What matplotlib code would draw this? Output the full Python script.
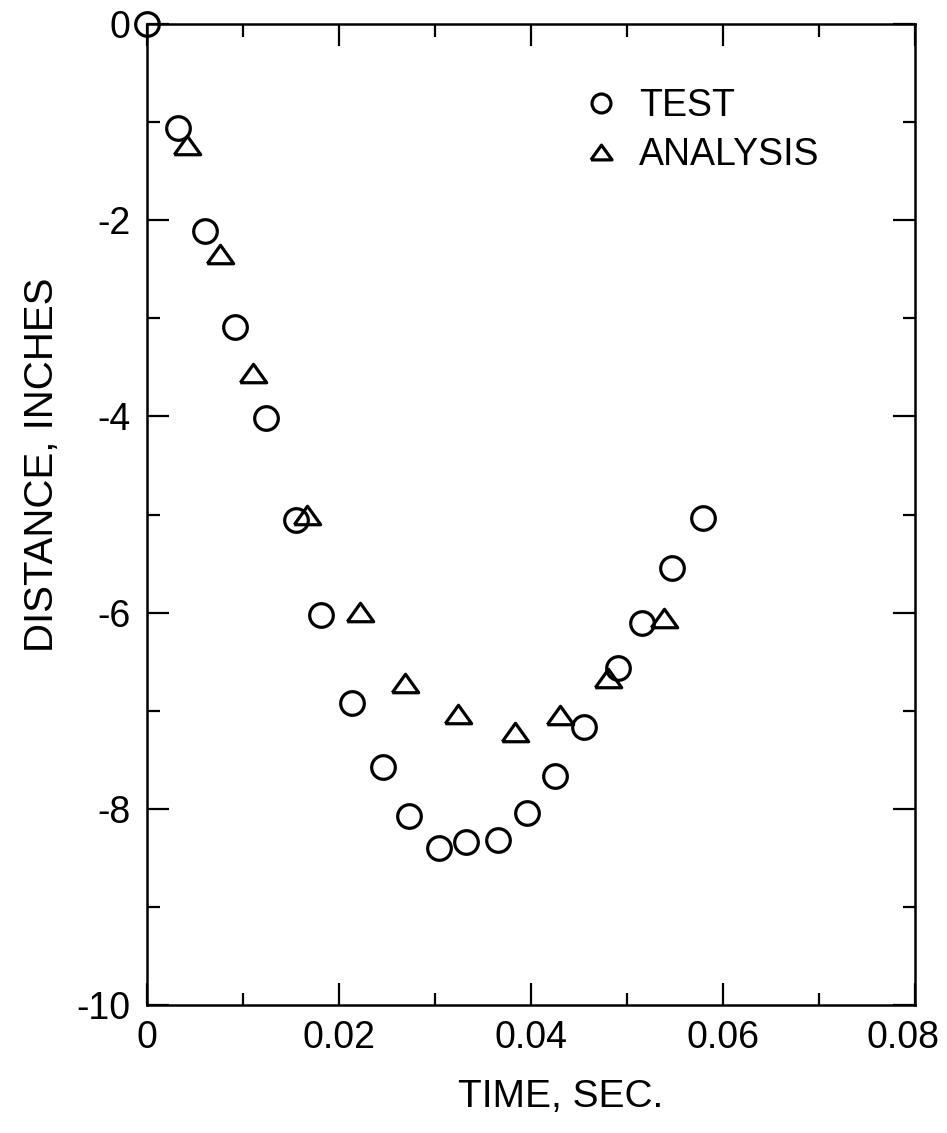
import matplotlib
matplotlib.use("Agg")
import matplotlib.pyplot as plt
from matplotlib.ticker import FixedLocator, FixedFormatter, MultipleLocator
from matplotlib.transforms import ScaledTranslation

# ---- data ----
test_time = [0.0000, 0.0032, 0.0060, 0.0092, 0.0124, 0.0155, 0.0181, 0.0214,
             0.0246, 0.0273, 0.0304, 0.0332, 0.0366, 0.0396, 0.0425, 0.0455,
             0.0491, 0.0516, 0.0547, 0.0579]
test_dist = [0.00, -1.06, -2.11, -3.09, -4.02, -5.06, -6.02, -6.92,
             -7.57, -8.07, -8.40, -8.34, -8.32, -8.04, -7.67, -7.17,
             -6.56, -6.11, -5.55, -5.04]

analysis_time = [0.0042, 0.0076, 0.0110, 0.0167, 0.0222, 0.0269, 0.0324,
                 0.0383, 0.0430, 0.0480, 0.0539]
analysis_dist = [-1.23, -2.34, -3.56, -5.00, -5.99, -6.72, -7.03,
                 -7.22, -7.04, -6.67, -6.05]

x_ticks = [0.0, 0.02, 0.04, 0.06, 0.08]
x_tick_labels = ["0", "0.02", "0.04", "0.06", "0.08"]
y_ticks = [0, -2, -4, -6, -8, -10]
y_tick_labels = ["0", "-2", "-4", "-6", "-8", "-10"]

x_label = "TIME, SEC."
y_label = "DISTANCE, INCHES"
legend_labels = ["TEST", "ANALYSIS"]

# ---- style ----
plt.rcParams["font.family"] = ["Liberation Sans", "DejaVu Sans"]
FS = 27

fig = plt.figure(figsize=(9.47, 11.33), dpi=100)
ax = fig.add_axes([147 / 947, 1 - 1005 / 1133, 768 / 947, 981 / 1133])

tri = [(-1, -0.7), (1, -0.7), (0, 0.7), (-1, -0.7)]

ax.plot(test_time, test_dist, linestyle="none", marker="o", markersize=17,
        markerfacecolor="none", markeredgecolor="black", markeredgewidth=2.3,
        label=legend_labels[0], clip_on=False, zorder=3)
ax.plot(analysis_time, analysis_dist, linestyle="none", marker=tri,
        markersize=19, markerfacecolor="none", markeredgecolor="black",
        markeredgewidth=2.3, label=legend_labels[1], clip_on=False, zorder=3)

ax.set_xlim(0, 0.08)
ax.set_ylim(-10, 0)

ax.xaxis.set_major_locator(FixedLocator(x_ticks))
ax.xaxis.set_major_formatter(FixedFormatter(x_tick_labels))
ax.xaxis.set_minor_locator(MultipleLocator(0.01))
ax.yaxis.set_major_locator(FixedLocator(y_ticks))
ax.yaxis.set_major_formatter(FixedFormatter(y_tick_labels))
ax.yaxis.set_minor_locator(MultipleLocator(1))

ax.tick_params(which="both", direction="in", top=True, right=True,
               width=1.6, colors="black")
ax.tick_params(which="major", length=16, labelsize=FS)
ax.tick_params(axis="x", which="major", pad=11)
ax.tick_params(axis="y", which="major", pad=12)
ax.tick_params(which="minor", length=9)

for s in ax.spines.values():
    s.set_linewidth(1.8)

# last x tick label sits slightly left of its tick, as in the reference
last = ax.xaxis.get_major_ticks()[-1].label1
last.set_transform(last.get_transform() +
                   ScaledTranslation(-0.12, 0, fig.dpi_scale_trans))

ax.set_xlabel(x_label, fontsize=28)
ax.xaxis.set_label_coords(0.538, -0.075)
ax.set_ylabel(y_label, fontsize=29)
ax.yaxis.set_label_coords(-0.112, 0.5505)

leg = ax.legend(loc="upper left", bbox_to_anchor=(0.567, 0.935),
                frameon=False, fontsize=FS, markerscale=0.8,
                handlelength=1.0, handletextpad=0.5, borderpad=0,
                borderaxespad=0, labelspacing=0.35)

fig.savefig("out.png", dpi=100)
